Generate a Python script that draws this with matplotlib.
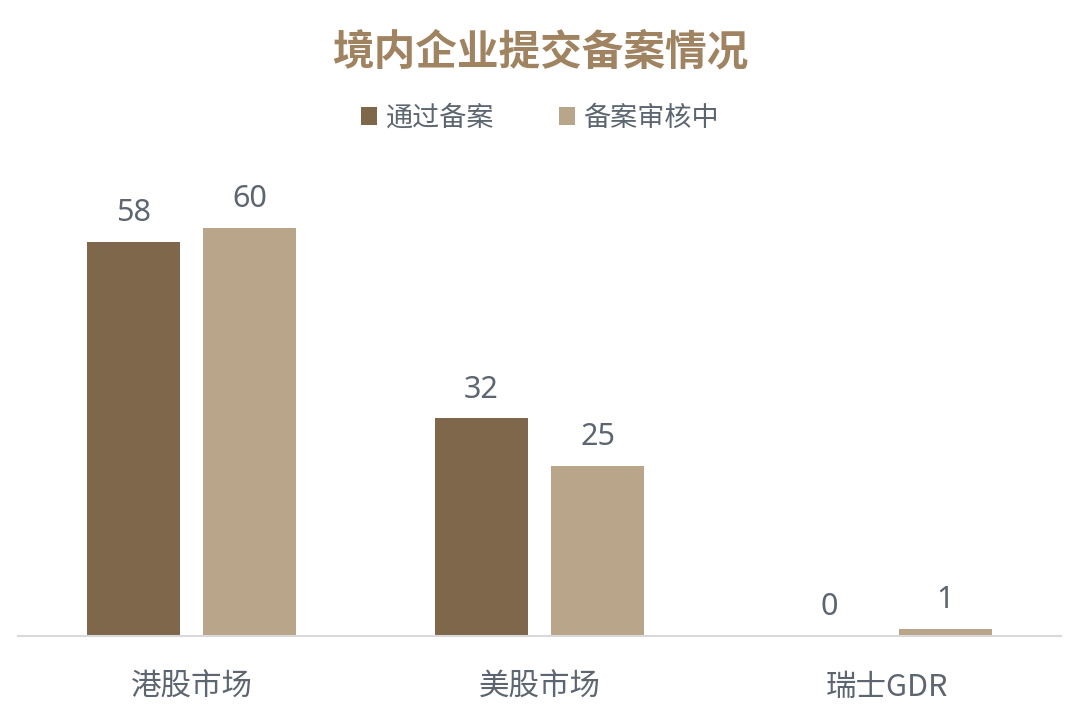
import matplotlib
matplotlib.use("Agg")
import matplotlib.pyplot as plt
import numpy as np
from matplotlib.patches import Patch

plt.rcParams['font.family'] = ['Noto Sans CJK SC', 'DejaVu Sans']

categories = ['港股市场', '美股市场', '瑞士GDR']
series_names = ['通过备案', '备案审核中']
approved = [58, 32, 0]
pending = [60, 25, 1]

c_dark = '#7f674b'
c_light = '#b8a58a'
c_text = '#5d6670'
c_title = '#a08360'

fig = plt.figure(figsize=(10.8, 7.21), dpi=100)
ax = fig.add_axes([18/1080, (721-636)/721, 1043/1080, 476/721])

x = np.arange(len(categories))
w = 0.268
off = 0.167
b1 = ax.bar(x - off, approved, w, color=c_dark)
b2 = ax.bar(x + off, pending, w, color=c_light)

for bars, vals in ((b1, approved), (b2, pending)):
    for rect, v in zip(bars, vals):
        ax.annotate(str(v), (rect.get_x() + rect.get_width()/2, rect.get_height()),
                    xytext=(0, 10), textcoords='offset points',
                    ha='center', va='bottom', fontsize=22, color=c_text,
                    family=['Noto Sans', 'DejaVu Sans'])

ax.set_xlim(-0.5, len(categories) - 0.5)
ax.set_ylim(0, 70)
ax.set_xticks(x)
ax.set_xticklabels(categories, fontsize=22, color=c_text)
ax.tick_params(axis='x', length=0, pad=26)
ax.set_yticks([])
for s in ('top', 'right', 'left'):
    ax.spines[s].set_visible(False)
ax.spines['bottom'].set_color('#d9d9d9')
ax.spines['bottom'].set_linewidth(1.5)

fig.text(0.5, 1 - 52/721, '境内企业提交备案情况', ha='center', va='center',
         fontsize=30, fontweight='bold', color=c_title)

handles = [Patch(facecolor=c_dark), Patch(facecolor=c_light)]
leg = fig.legend(handles, series_names, loc='center', bbox_to_anchor=(0.5, 1 - 118/721),
                 ncol=2, frameon=False, fontsize=19.5, handlelength=0.6, handleheight=0.6,
                 handletextpad=0.3, columnspacing=2.4)
for t in leg.get_texts():
    t.set_color(c_text)

fig.savefig('out.png', dpi=100)
